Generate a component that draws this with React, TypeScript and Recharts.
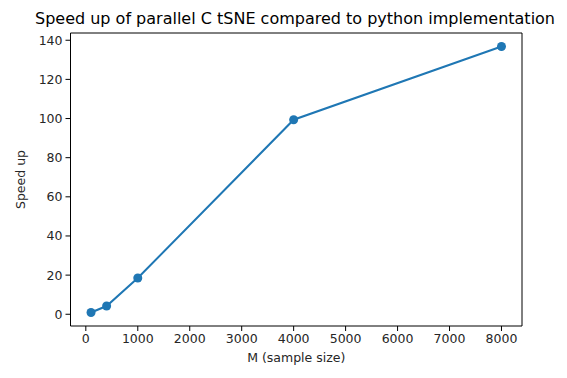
import React from 'react';
import { LineChart, Line, XAxis, YAxis, ReferenceArea } from 'recharts';

const sampleSizes = [100, 400, 1000, 4000, 8000];
const speedUps = [0.9, 4.2, 18.5, 99.4, 136.8];
const xTicks = [0, 1000, 2000, 3000, 4000, 5000, 6000, 7000, 8000];
const yTicks = [0, 20, 40, 60, 80, 100, 120, 140];
const title = 'Speed up of parallel C tSNE compared to python implementation';

const data = sampleSizes.map((m, i) => ({ m, s: speedUps[i] }));

const X_DOMAIN: [number, number] = [-295, 8395];
const Y_DOMAIN: [number, number] = [-6.0, 143.7];
const font = 'DejaVu Sans';
const textColor = '#262626';

export default function App() {
  return (
    <div style={{ position: 'absolute', left: 0, top: 0, width: 567, height: 378, background: '#fff' }}>
      <LineChart width={567} height={378} data={data} margin={{ top: 33, right: 45, bottom: 22, left: 20 }}>
        <text x={295} y={24} textAnchor="middle" fontFamily={font} fontSize={16} fill="#000">{title}</text>
        <XAxis
          dataKey="m"
          type="number"
          domain={X_DOMAIN}
          ticks={xTicks}
          allowDataOverflow
          height={30}
          tickLine={{ stroke: '#000' }}
          axisLine={false}
          tickSize={5}
          tickMargin={3}
          tick={{ fontFamily: font, fontSize: 12.5, fill: textColor }}
          label={{ value: 'M (sample size)', position: 'insideBottom', offset: -6, fontFamily: font, fontSize: 12.5, fill: textColor }}
        />
        <YAxis
          type="number"
          domain={Y_DOMAIN}
          ticks={yTicks}
          allowDataOverflow
          width={50.5}
          tickLine={{ stroke: '#000' }}
          axisLine={false}
          tickSize={5}
          tickMargin={3}
          tick={{ fontFamily: font, fontSize: 12.5, fill: textColor }}
          label={{ value: 'Speed up', angle: -90, position: 'insideLeft', offset: 1, fontFamily: font, fontSize: 12.5, fill: textColor, style: { textAnchor: 'middle' } }}
        />
        <ReferenceArea x1={X_DOMAIN[0]} x2={X_DOMAIN[1]} y1={Y_DOMAIN[0]} y2={Y_DOMAIN[1]} fill="none" stroke="#000" strokeWidth={1} />
        <Line
          dataKey="s"
          stroke="#1f77b4"
          strokeWidth={2}
          isAnimationActive={false}
          dot={{ r: 4.5, fill: '#1f77b4', stroke: '#1f77b4', strokeWidth: 0, fillOpacity: 1 }}
          activeDot={false}
        />
      </LineChart>
    </div>
  );
}
